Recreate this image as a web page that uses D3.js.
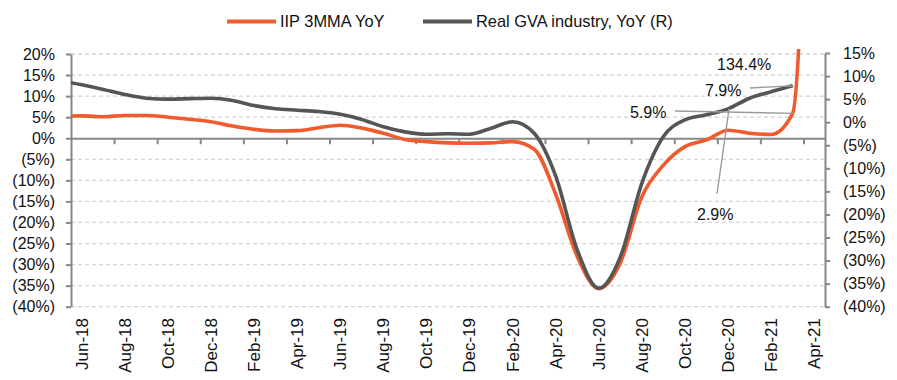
<!DOCTYPE html>
<html><head><meta charset="utf-8">
<script src="https://cdn.jsdelivr.net/npm/d3@7"></script>
<style>
html,body{margin:0;padding:0;background:#fff;}
svg{display:block;font-family:"Liberation Sans",Arial,sans-serif;}
</style></head>
<body>
<svg id="chart" width="897" height="380"></svg>
<script>
// ---- data ----
const months = ["May-18","Jun-18","Jul-18","Aug-18","Sep-18","Oct-18","Nov-18","Dec-18","Jan-19","Feb-19","Mar-19","Apr-19","May-19","Jun-19","Jul-19","Aug-19","Sep-19","Oct-19","Nov-19","Dec-19","Jan-20","Feb-20","Mar-20","Apr-20","May-20","Jun-20","Jul-20","Aug-20","Sep-20","Oct-20","Nov-20","Dec-20","Jan-21","Feb-21","Mar-21","Apr-21"];
const iip = [5.2,5.3,5.1,5.4,5.4,5.0,4.5,3.9,2.9,2.1,1.7,1.8,2.5,3.1,2.4,1.2,-0.3,-0.8,-1.1,-1.2,-1.1,-0.8,-2.6,-13.3,-28.1,-35.7,-29.6,-13.9,-6.4,-2.0,-0.4,1.9,1.2,0.9,5.9,134.4];
const gva = [9.0,8.1,7.1,6.0,5.2,5.0,5.1,5.2,4.7,3.6,2.9,2.6,2.3,1.7,0.6,-1.0,-2.1,-2.6,-2.5,-2.6,-1.3,0.1,-2.4,-11.7,-27.7,-36.0,-29.2,-13.2,-3.1,0.5,1.6,2.9,5.2,6.6,7.9,null];
const xTickLabels = ["Jun-18","Aug-18","Oct-18","Dec-18","Feb-19","Apr-19","Jun-19","Aug-19","Oct-19","Dec-19","Feb-20","Apr-20","Jun-20","Aug-20","Oct-20","Dec-20","Feb-21","Apr-21"];
const leftTicks = [20,15,10,5,0,-5,-10,-15,-20,-25,-30,-35,-40];
const rightTicks = [15,10,5,0,-5,-10,-15,-20,-25,-30,-35,-40];
const seriesNames = ["IIP 3MMA YoY","Real GVA industry, YoY (R)"];
const annotations = [
  {text:"134.4%", series:"iip", month:"Apr-21", value:134.4, pointer:false},
  {text:"7.9%", series:"gva", month:"Mar-21", value:7.9, pointer:true},
  {text:"5.9%", series:"iip", month:"Mar-21", value:5.9, pointer:true},
  {text:"2.9%", series:"gva", month:"Dec-20", value:2.9, pointer:true}
];

// ---- layout ----
const L = 71, R = 825, T = 53, B = 306.7;
const orange = "#EF5B2D", grey = "#555555", axisCol = "#878787";
const svg = d3.select("#chart");

const x = d3.scaleLinear().domain([0.5, months.length - 0.5]).range([L, R]);
const yL = d3.scaleLinear().domain([-40, 20]).range([B, 54]);
const yR = d3.scaleLinear().domain([-40, 15]).range([B, 53]);
const fmt = v => v < 0 ? "(" + Math.abs(v) + "%)" : v + "%";

// gridlines
svg.append("g").selectAll("line").data(leftTicks.filter(v => v !== 0)).join("line")
  .attr("x1", L).attr("x2", R).attr("y1", d => yL(d)).attr("y2", d => yL(d))
  .attr("stroke", "#d4d4d4").attr("stroke-width", 1.3).attr("stroke-dasharray", "4,3");

// left axis
const gl = svg.append("g").attr("transform", `translate(${L},0)`)
  .call(d3.axisLeft(yL).tickValues(leftTicks).tickSize(5).tickSizeOuter(0).tickPadding(11).tickFormat(fmt));
// right axis
const gr = svg.append("g").attr("transform", `translate(${R},0)`)
  .call(d3.axisRight(yR).tickValues(rightTicks).tickSize(5).tickSizeOuter(0).tickPadding(13).tickFormat(fmt));
[gl, gr].forEach(g => {
  g.select(".domain").attr("stroke", axisCol).attr("stroke-width", 2);
  g.selectAll(".tick line").attr("stroke", axisCol).attr("stroke-width", 2);
  g.selectAll(".tick text").attr("fill", "#111").style("font-size", "16px");
});

// zero line with category ticks
const y0 = yL(0);
const gx = svg.append("g").attr("transform", `translate(0,${y0})`);
const boundaries = d3.range(2.5, months.length - 0.5, 2);
gx.call(d3.axisBottom(x).tickValues(boundaries).tickSize(6).tickSizeOuter(0).tickFormat(""));
gx.select(".domain").attr("stroke", axisCol).attr("stroke-width", 2);
gx.selectAll(".tick line").attr("stroke", axisCol).attr("stroke-width", 2);

// x labels at bottom, rotated
svg.append("g").selectAll("text").data(xTickLabels).join("text")
  .attr("transform", d => `translate(${x(months.indexOf(d))},318) rotate(-90)`)
  .attr("text-anchor", "end").attr("dy", "0.35em")
  .attr("fill", "#111").style("font-size", "17px").text(d => d);

// clip
svg.append("clipPath").attr("id", "plotclip").append("rect")
  .attr("x", L).attr("y", 49).attr("width", R - L).attr("height", B - 49 + 5);

const lineL = d3.line().defined(d => d != null).x((d, i) => x(i)).y(d => yL(d)).curve(d3.curveMonotoneX);
const lineR = d3.line().defined(d => d != null).x((d, i) => x(i)).y(d => yR(d)).curve(d3.curveMonotoneX);

const lines = svg.append("g").attr("clip-path", "url(#plotclip)");
lines.append("path").attr("d", lineL(iip)).attr("fill", "none").attr("stroke", orange)
  .attr("stroke-width", 3.6).attr("stroke-linejoin", "round");
lines.append("path").attr("d", lineR(gva)).attr("fill", "none").attr("stroke", grey)
  .attr("stroke-width", 3.6).attr("stroke-linejoin", "round");

// annotations
const labelPos = {"134.4%": [717, 70], "7.9%": [705, 96], "5.9%": [630, 118], "2.9%": [697, 220]};
const pointerStart = {"7.9%": [750, 88], "5.9%": [675, 111], "2.9%": [717, 194]};
annotations.forEach(a => {
  const px = x(months.indexOf(a.month));
  const py = a.series === "iip" ? yL(a.value) : yR(a.value);
  if (a.pointer) {
    const s = pointerStart[a.text];
    svg.append("line").attr("x1", s[0]).attr("y1", s[1]).attr("x2", px + 1).attr("y2", py)
      .attr("stroke", "#9a9a9a").attr("stroke-width", 1.4);
  }
  const p = labelPos[a.text];
  svg.append("text").attr("x", p[0]).attr("y", p[1]).attr("fill", "#111")
    .style("font-size", "16px").text(a.text);
});

// legend
const leg = [{name: seriesNames[0], col: orange, x: 227}, {name: seriesNames[1], col: grey, x: 423}];
leg.forEach(l => {
  svg.append("line").attr("x1", l.x).attr("x2", l.x + 49).attr("y1", 21.5).attr("y2", 21.5)
    .attr("stroke", l.col).attr("stroke-width", 4);
  svg.append("text").attr("x", l.x + 53).attr("y", 27).attr("fill", "#111")
    .style("font-size", "16.4px").text(l.name);
});
</script>
</body></html>
